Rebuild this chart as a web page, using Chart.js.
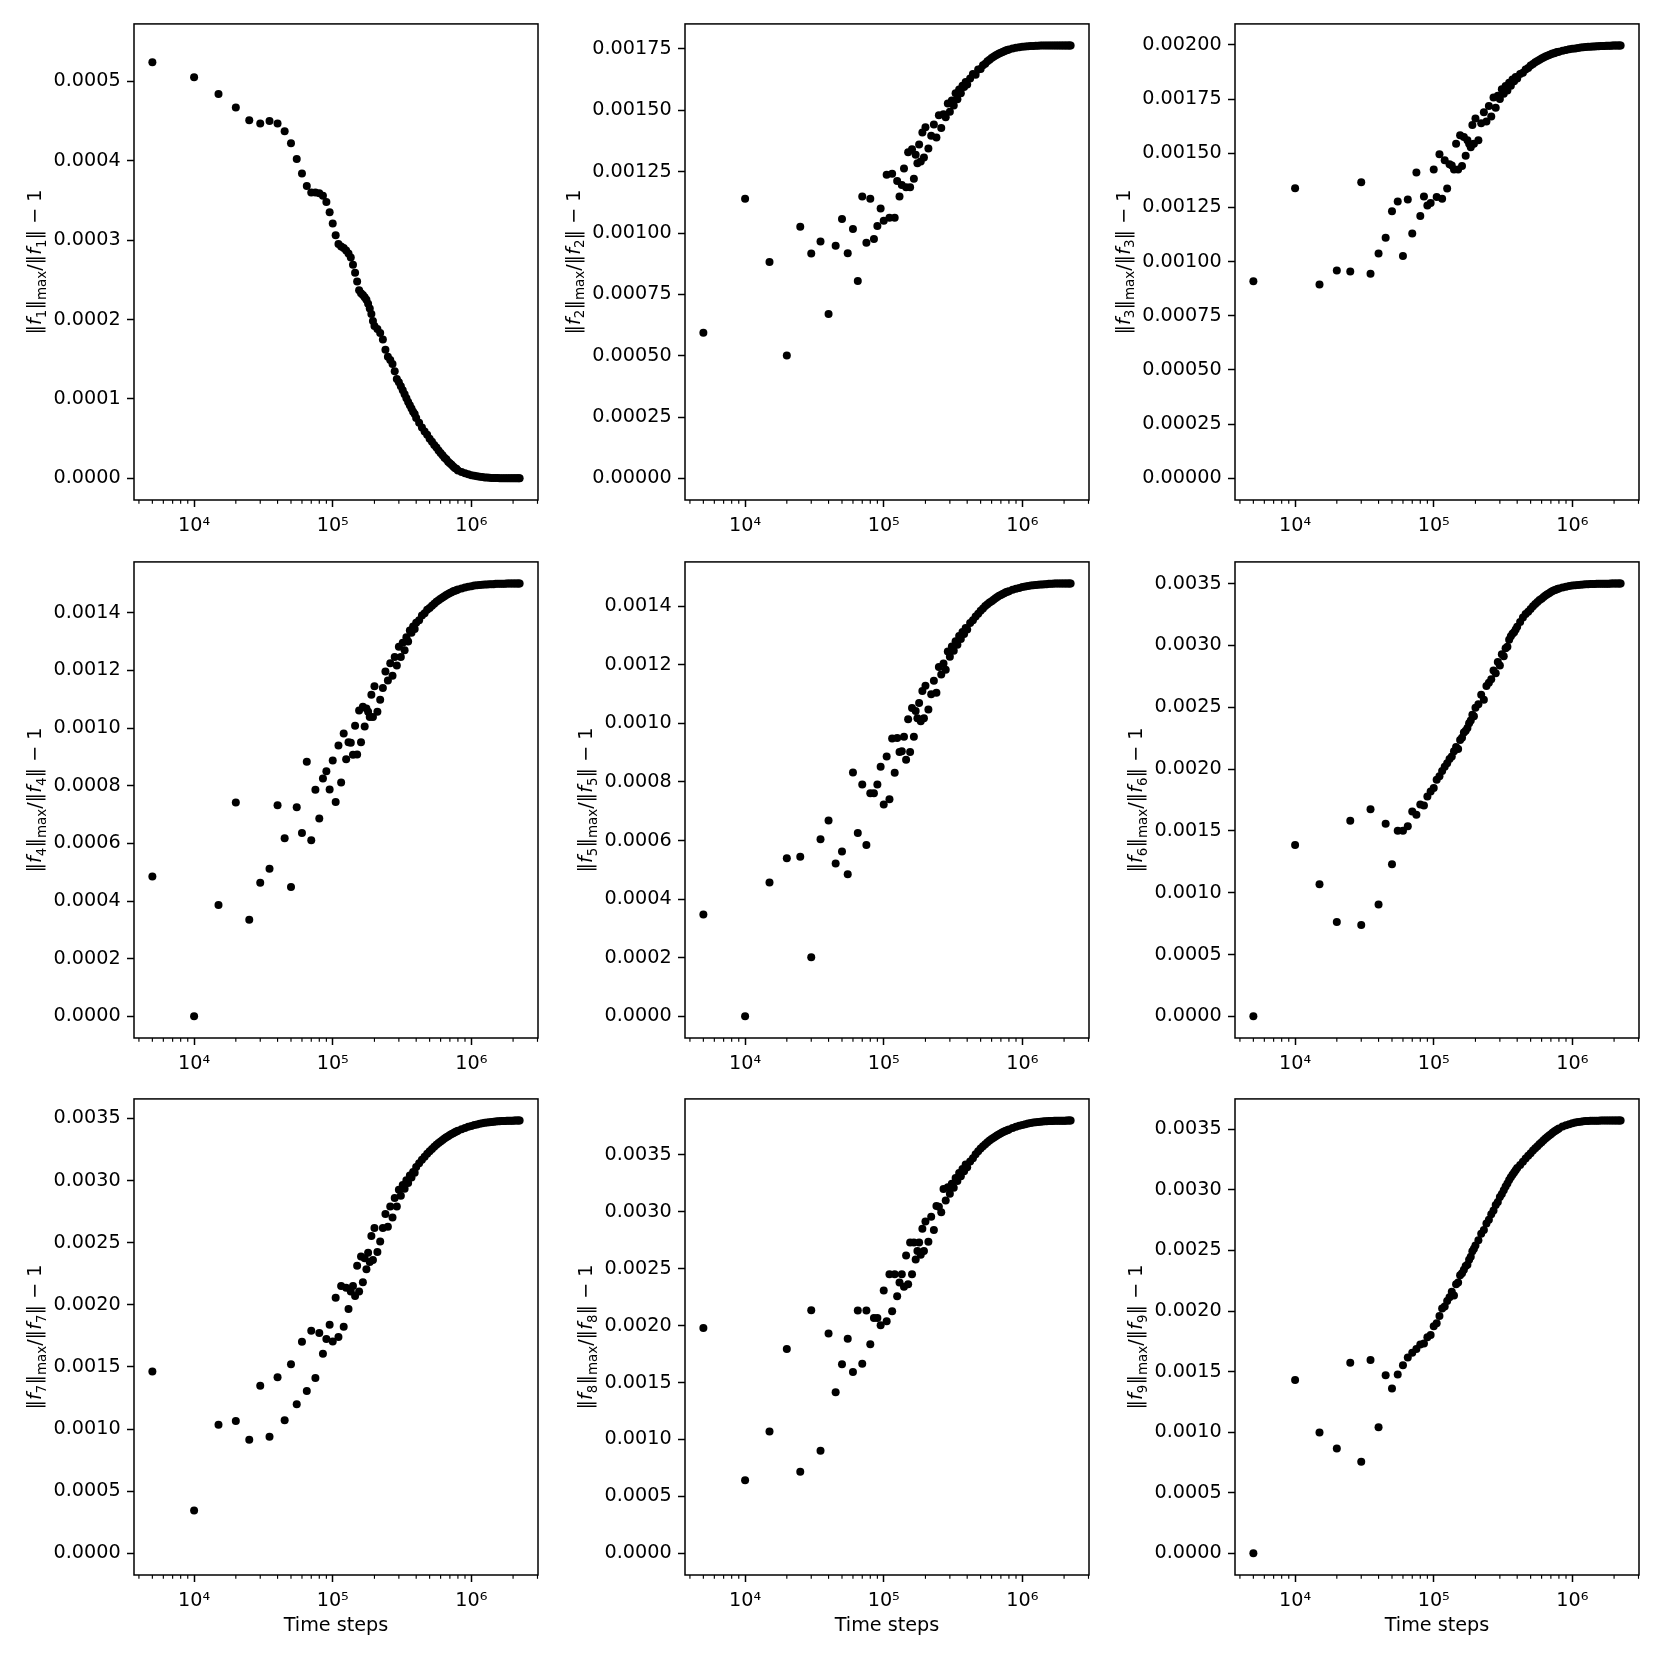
<!DOCTYPE html>
<html>
<head>
<meta charset="utf-8">
<script src="https://cdn.jsdelivr.net/npm/chart.js@4.4.0/dist/chart.umd.min.js"></script>
<style>
  body { margin: 0; background: #fff; }
  #fig { position: relative; width: 1661px; height: 1661px; background: #fff; }
  .panel { position: absolute; }
</style>
</head>
<body>
<div id="fig"></div>
<script>
// time steps shared by all nine panels
const steps = [
  5000, 10000, 15000, 20000, 25000, 30000, 35000, 40000, 45000, 50000,
  55000, 60000, 65000, 70000, 75000, 80000, 85000, 90000, 95000, 100000,
  105000, 110000, 115000, 120000, 125000, 130000, 135000, 140000, 145000, 150000,
  155000, 160000, 165000, 170000, 175000, 180000, 185000, 190000, 195000, 200000,
  210000, 220000, 230000, 240000, 250000, 260000, 270000, 280000, 290000, 300000,
  310000, 320000, 330000, 340000, 350000, 360000, 370000, 380000, 390000, 400000,
  420000, 440000, 460000, 480000, 500000, 520000, 540000, 560000, 580000, 600000,
  620000, 640000, 660000, 680000, 700000, 720000, 740000, 760000, 780000, 800000,
  850000, 900000, 950000, 1000000, 1050000, 1100000, 1150000, 1200000, 1250000, 1300000,
  1350000, 1400000, 1450000, 1500000, 1550000, 1600000, 1650000, 1700000, 1750000, 1800000,
  1850000, 1900000, 1950000, 2000000, 2050000, 2100000, 2150000, 2200000, 2230000
];

// series values, in units of 1e-6
const f1 = [
  524, 505, 484, 467, 451, 447, 450, 447, 437, 422, 402, 384, 368, 360, 360, 359, 356, 348, 335, 321,
  306, 295, 292, 290, 287, 283, 278, 269, 259, 248, 237, 233, 231, 228, 225, 220, 214, 207, 198, 192,
  188, 183, 175, 162, 153, 149, 144, 135, 125, 121, 116, 111, 106, 101, 96, 92, 88, 84, 81, 76,
  70, 64, 59, 55, 50, 46, 42, 39, 35, 32, 29, 26, 24, 21, 19, 17, 15, 13, 12, 10,
  8, 6.5, 5.2, 4, 3.2, 2.5, 2, 1.6, 1.2, 1, 0.8, 0.6, 0.5, 0.4, 0.3, 0.25, 0.2, 0.15, 0.1, 0.1,
  0.05, 0.05, 0, 0, 0, 0, 0, 0, 0
];
const f2 = [
  593, 1140, 882, 501, 1026, 916, 965, 670, 948, 1057, 917, 1016, 804, 1149, 960, 1140, 976, 1029, 1100, 1050,
  1237, 1062, 1242, 1062, 1212, 1149, 1196, 1263, 1186, 1329, 1186, 1341, 1221, 1319, 1284, 1361, 1291, 1410, 1308, 1431,
  1344, 1396, 1442, 1389, 1480, 1428, 1484, 1472, 1528, 1494, 1540, 1520, 1570, 1545, 1585, 1570, 1600, 1595, 1615, 1605,
  1630, 1648, 1645, 1666, 1668, 1684, 1690, 1700, 1706, 1713, 1718, 1723, 1728, 1732, 1735, 1738, 1741, 1744, 1746, 1748,
  1752, 1755, 1757, 1759, 1760, 1761, 1762, 1762, 1763, 1763, 1764, 1764, 1764, 1764, 1764, 1764, 1764, 1764, 1764, 1764,
  1764, 1764, 1764, 1764, 1764, 1764, 1764, 1764, 1764
];
const f3 = [
  909, 1339, 895, 959, 955, 1366, 944, 1037, 1110, 1233, 1278, 1026, 1287, 1130, 1411, 1211, 1300, 1259, 1270, 1425,
  1298, 1496, 1290, 1468, 1338, 1449, 1444, 1425, 1544, 1425, 1583, 1441, 1575, 1488, 1560, 1544, 1528, 1631, 1544, 1661,
  1560, 1639, 1689, 1647, 1718, 1670, 1757, 1710, 1765, 1750, 1795, 1775, 1810, 1790, 1825, 1812, 1840, 1832, 1852, 1845,
  1866, 1872, 1886, 1893, 1905, 1912, 1920, 1926, 1932, 1937, 1942, 1946, 1950, 1953, 1957, 1960, 1962, 1965, 1967, 1969,
  1973, 1977, 1980, 1982, 1984, 1986, 1988, 1989, 1990, 1991, 1992, 1993, 1993, 1994, 1994, 1995, 1995, 1995, 1996, 1996,
  1996, 1996, 1997, 1997, 1997, 1997, 1997, 1997, 1997
];
const f4 = [
  485, 0, 386, 742, 335, 463, 512, 732, 618, 449, 725, 636, 883, 611, 786, 686, 825, 850, 787, 887,
  743, 939, 811, 981, 892, 951, 949, 907, 1008, 908, 1061, 951, 1074, 1005, 1068, 1056, 1038, 1115, 1038, 1145,
  1056, 1098, 1139, 1196, 1165, 1225, 1181, 1246, 1217, 1282, 1246, 1296, 1270, 1315, 1300, 1338, 1330, 1352, 1343, 1365,
  1374, 1390, 1398, 1410, 1416, 1424, 1431, 1438, 1443, 1448, 1453, 1457, 1461, 1465, 1468, 1471, 1474, 1476, 1478, 1480,
  1484, 1487, 1490, 1492, 1494, 1495, 1496, 1497, 1498, 1498, 1499, 1499, 1499, 1500, 1500, 1500, 1500, 1500, 1500, 1501,
  1501, 1501, 1501, 1501, 1501, 1501, 1501, 1501, 1501
];
const f5 = [
  348, 0, 457, 540, 545, 202, 604, 668, 522, 563, 485, 832, 626, 791, 585, 761, 761, 791, 852, 723,
  887, 741, 948, 831, 950, 902, 905, 954, 876, 1014, 902, 1052, 954, 1042, 1017, 1069, 1007, 1110, 1017, 1128,
  1047, 1099, 1145, 1104, 1192, 1167, 1204, 1183, 1245, 1227, 1262, 1248, 1280, 1268, 1298, 1288, 1312, 1305, 1325, 1320,
  1342, 1352, 1365, 1374, 1384, 1392, 1400, 1406, 1412, 1417, 1422, 1427, 1431, 1435, 1438, 1441, 1444, 1447, 1449, 1451,
  1456, 1459, 1462, 1465, 1467, 1469, 1470, 1471, 1472, 1473, 1474, 1474, 1475, 1475, 1476, 1476, 1476, 1477, 1477, 1477,
  1477, 1477, 1477, 1477, 1477, 1477, 1477, 1477, 1477
];
const f6 = [
  0, 1385, 1069, 763, 1582, 738, 1674, 905, 1557, 1230, 1502, 1502, 1538, 1657, 1630, 1713, 1705, 1777, 1818, 1846,
  1913, 1941, 1985, 2018, 2046, 2082, 2102, 2143, 2179, 2163, 2235, 2254, 2296, 2310, 2332, 2371, 2393, 2440, 2426, 2496,
  2523, 2601, 2560, 2671, 2698, 2726, 2796, 2774, 2865, 2837, 2929, 2912, 2976, 2990, 3045, 3073, 3095, 3106, 3129, 3151,
  3190, 3226, 3254, 3273, 3295, 3317, 3334, 3351, 3367, 3378, 3392, 3403, 3414, 3422, 3431, 3439, 3445, 3450, 3456, 3461,
  3469, 3475, 3480, 3484, 3486, 3489, 3491, 3493, 3494, 3495, 3496, 3497, 3497, 3498, 3498, 3498, 3499, 3499, 3499, 3499,
  3499, 3500, 3500, 3500, 3500, 3500, 3500, 3500, 3500
];
const f7 = [
  1464, 345, 1036, 1065, 914, 1348, 938, 1417, 1071, 1521, 1200, 1702, 1307, 1792, 1411, 1774, 1607, 1726, 1839, 1705,
  2057, 1741, 2152, 1824, 2137, 1967, 2107, 2152, 2071, 2315, 2107, 2390, 2182, 2375, 2286, 2420, 2345, 2554, 2360, 2619,
  2426, 2509, 2619, 2732, 2628, 2792, 2702, 2860, 2792, 2926, 2878, 2965, 2935, 3003, 2980, 3040, 3025, 3070, 3062, 3110,
  3140, 3168, 3192, 3215, 3236, 3255, 3272, 3288, 3302, 3315, 3327, 3338, 3348, 3357, 3366, 3374, 3381, 3388, 3394, 3400,
  3413, 3424, 3433, 3440, 3447, 3452, 3457, 3461, 3465, 3468, 3470, 3472, 3474, 3476, 3477, 3478, 3479, 3480, 3480, 3481,
  3481, 3482, 3482, 3482, 3483, 3483, 3483, 3483, 3483
];
const f8 = [
  1979, 642, 1071, 1794, 717, 2135, 902, 1931, 1415, 1661, 1885, 1593, 2132, 1664, 2132, 1836, 2067, 2067, 2002, 2307,
  2038, 2450, 2125, 2450, 2258, 2378, 2450, 2340, 2615, 2362, 2729, 2450, 2729, 2580, 2654, 2729, 2621, 2849, 2654, 2914,
  2736, 2956, 2839, 3050, 3043, 2995, 3199, 3099, 3215, 3157, 3245, 3210, 3295, 3270, 3340, 3310, 3375, 3355, 3415, 3390,
  3440, 3470, 3505, 3530, 3555, 3575, 3593, 3610, 3625, 3638, 3650, 3661, 3671, 3680, 3689, 3697, 3704, 3710, 3716, 3722,
  3734, 3745, 3754, 3762, 3768, 3774, 3778, 3782, 3785, 3788, 3790, 3792, 3793, 3795, 3796, 3797, 3797, 3798, 3798, 3798,
  3799, 3799, 3799, 3799, 3799, 3800, 3800, 3800, 3800
];
const f9 = [
  0, 1430, 997, 866, 1573, 756, 1595, 1040, 1470, 1360, 1476, 1552, 1616, 1655, 1686, 1723, 1732, 1784, 1802, 1875,
  1899, 1960, 2021, 2037, 2082, 2113, 2159, 2128, 2220, 2235, 2296, 2311, 2341, 2372, 2381, 2424, 2448, 2494, 2515, 2540,
  2585, 2637, 2668, 2723, 2753, 2799, 2829, 2875, 2900, 2942, 2966, 2997, 3027, 3052, 3082, 3104, 3125, 3143, 3162, 3180,
  3205, 3232, 3258, 3282, 3303, 3324, 3343, 3361, 3378, 3394, 3409, 3423, 3436, 3448, 3460, 3471, 3481, 3490, 3499, 3507,
  3522, 3533, 3542, 3550, 3555, 3560, 3563, 3566, 3568, 3569, 3570, 3570, 3571, 3571, 3571, 3572, 3572, 3572, 3572, 3572,
  3572, 3572, 3572, 3572, 3572, 3572, 3572, 3572, 3572
];
const series = [f1, f2, f3, f4, f5, f6, f7, f8, f9];

// value at time step 0 (units of 1e-6): not drawable on a log axis,
// but it still counts for the y autoscale
const step0 = [545, 0, 0, 0, 0, 0, 0, 0, 0];

// y tick spacing and label decimals, per panel
const yTickSteps = [0.0001, 0.00025, 0.00025, 0.0002, 0.0002, 0.0005, 0.0005, 0.0005, 0.0005];
const yTickDecimals = [4, 5, 5, 4, 4, 4, 4, 4, 4];

// log x axis ticks
const xMajorTicks = [1e4, 1e5, 1e6];
const xMajorLabels = ['10⁴', '10⁵', '10⁶'];
const xMinorTicks = [
  4000, 5000, 6000, 7000, 8000, 9000,
  20000, 30000, 40000, 50000, 60000, 70000, 80000, 90000,
  200000, 300000, 400000, 500000, 600000, 700000, 800000, 900000,
  2000000, 3000000
];
const xTitle = 'Time steps';

// layout (px)
const COL_LEFT = [134, 685, 1235];
const ROW_TOP = [20, 558, 1095];
const AX_W = 404, AX_H = 480;
const Y_W = 130, PAD_T = 14, PAD_R = 14;
const X_H = [42, 42, 63];
const FS = 19.2;
const FONT = '"DejaVu Sans"';

Chart.defaults.font.family = FONT;
Chart.defaults.font.size = FS;
Chart.defaults.color = '#000';

function drawYTitle(chart, idx) {
  const ctx = chart.ctx;
  const area = chart.chartArea;
  const yScale = chart.scales.y;
  ctx.font = `${FS}px ${FONT}`;
  const maxW = Math.max(...yScale.ticks.map(t => ctx.measureText(t.label).width));
  const baseX = area.left - 13.4 - maxW - 7.7 - 0.23 * FS;
  const cy = (area.top + area.bottom) / 2;
  const n = String(idx + 1);
  const normal = `${FS}px ${FONT}`;
  const italic = `italic ${FS}px ${FONT}`;
  const sub = `${(FS * 0.7).toFixed(1)}px ${FONT}`;
  const dy = 0.22 * FS;
  const parts = [
    { t: '‖', f: normal }, { t: 'f', f: italic }, { t: n, f: sub, dy: dy },
    { t: '‖', f: normal }, { t: 'max', f: sub, dy: dy },
    { t: '/‖', f: normal }, { t: 'f', f: italic }, { t: n, f: sub, dy: dy },
    { t: '‖ − 1', f: normal }
  ];
  let total = 0;
  parts.forEach(p => { ctx.font = p.f; p.w = ctx.measureText(p.t).width; total += p.w; });
  ctx.save();
  ctx.translate(baseX, cy);
  ctx.rotate(-Math.PI / 2);
  ctx.fillStyle = '#000';
  ctx.textBaseline = 'alphabetic';
  let x = -total / 2;
  parts.forEach(p => {
    ctx.font = p.f;
    ctx.fillText(p.t, x, p.dy || 0);
    x += p.w;
  });
  ctx.restore();
}

const framePlugin = {
  id: 'frame',
  afterDraw(chart) {
    const { ctx, chartArea: a, scales } = chart;
    ctx.save();
    ctx.strokeStyle = '#000';
    // minor ticks of the log axis
    ctx.lineWidth = 1.15;
    xMinorTicks.forEach(v => {
      if (v < scales.x.min || v > scales.x.max) return;
      const px = scales.x.getPixelForValue(v);
      ctx.beginPath();
      ctx.moveTo(px, a.bottom);
      ctx.lineTo(px, a.bottom + 3.8);
      ctx.stroke();
    });
    ctx.lineWidth = 1.5;
    ctx.strokeRect(a.left, a.top, a.right - a.left, a.bottom - a.top);
    ctx.restore();
    drawYTitle(chart, chart.options.plugins.frame.index);
  }
};

const fig = document.getElementById('fig');

series.forEach((vals, i) => {
  const row = Math.floor(i / 3), col = i % 3;
  const data = steps.map((x, k) => ({ x: x, y: vals[k] * 1e-6 }));

  // matplotlib-like autoscale: 5% margins, log margins on x
  const ys = data.map(p => p.y).concat([step0[i] * 1e-6]);
  const lo = Math.min(...ys), hi = Math.max(...ys);
  const yPad = (hi - lo) * 0.05;
  const lx0 = Math.log10(steps[0]), lx1 = Math.log10(steps[steps.length - 1]);
  const xPad = (lx1 - lx0) * 0.05;

  const div = document.createElement('div');
  div.className = 'panel';
  div.style.left = (COL_LEFT[col] - Y_W) + 'px';
  div.style.top = (ROW_TOP[row] - PAD_T) + 'px';
  div.style.width = (Y_W + AX_W + PAD_R) + 'px';
  div.style.height = (PAD_T + AX_H + X_H[row]) + 'px';
  const canvas = document.createElement('canvas');
  div.appendChild(canvas);
  fig.appendChild(div);

  const step = yTickSteps[i];
  new Chart(canvas, {
    type: 'scatter',
    data: {
      datasets: [{
        data: data,
        pointRadius: 4,
        pointHoverRadius: 4,
        pointBackgroundColor: '#000',
        pointBorderWidth: 0,
        showLine: false
      }]
    },
    options: {
      responsive: true,
      maintainAspectRatio: false,
      animation: false,
      events: [],
      layout: { padding: { top: PAD_T, right: PAD_R, left: 0, bottom: 0 } },
      plugins: {
        legend: { display: false },
        tooltip: { enabled: false },
        frame: { index: i }
      },
      scales: {
        x: {
          type: 'logarithmic',
          min: Math.pow(10, lx0 - xPad),
          max: Math.pow(10, lx1 + xPad),
          afterBuildTicks: scale => { scale.ticks = xMajorTicks.map(v => ({ value: v, major: true })); },
          afterFit: scale => { scale.height = X_H[row]; },
          ticks: {
            autoSkip: false,
            maxRotation: 0,
            padding: 7,
            callback: v => xMajorLabels[xMajorTicks.indexOf(v)] || ''
          },
          grid: { display: true, drawOnChartArea: false, drawTicks: true, tickLength: 7, tickWidth: 1.5, tickColor: '#000' },
          border: { display: false },
          title: {
            display: row === 2,
            text: xTitle,
            padding: { top: 0, bottom: 0 },
            font: { size: FS }
          }
        },
        y: {
          type: 'linear',
          min: lo - yPad,
          max: hi + yPad,
          afterBuildTicks: scale => {
            const ticks = [];
            const first = Math.ceil(scale.min / step - 1e-9);
            for (let k = first; k * step <= scale.max + 1e-12; k++) ticks.push({ value: k * step });
            scale.ticks = ticks;
          },
          afterFit: scale => { scale.width = Y_W; },
          ticks: {
            padding: 6.4,
            callback: v => Math.abs(v) < 1e-12 ? (0).toFixed(yTickDecimals[i]) : v.toFixed(yTickDecimals[i])
          },
          grid: { display: true, drawOnChartArea: false, drawTicks: true, tickLength: 7, tickWidth: 1.5, tickColor: '#000' },
          border: { display: false }
        }
      }
    },
    plugins: [framePlugin]
  });
});
</script>
</body>
</html>
